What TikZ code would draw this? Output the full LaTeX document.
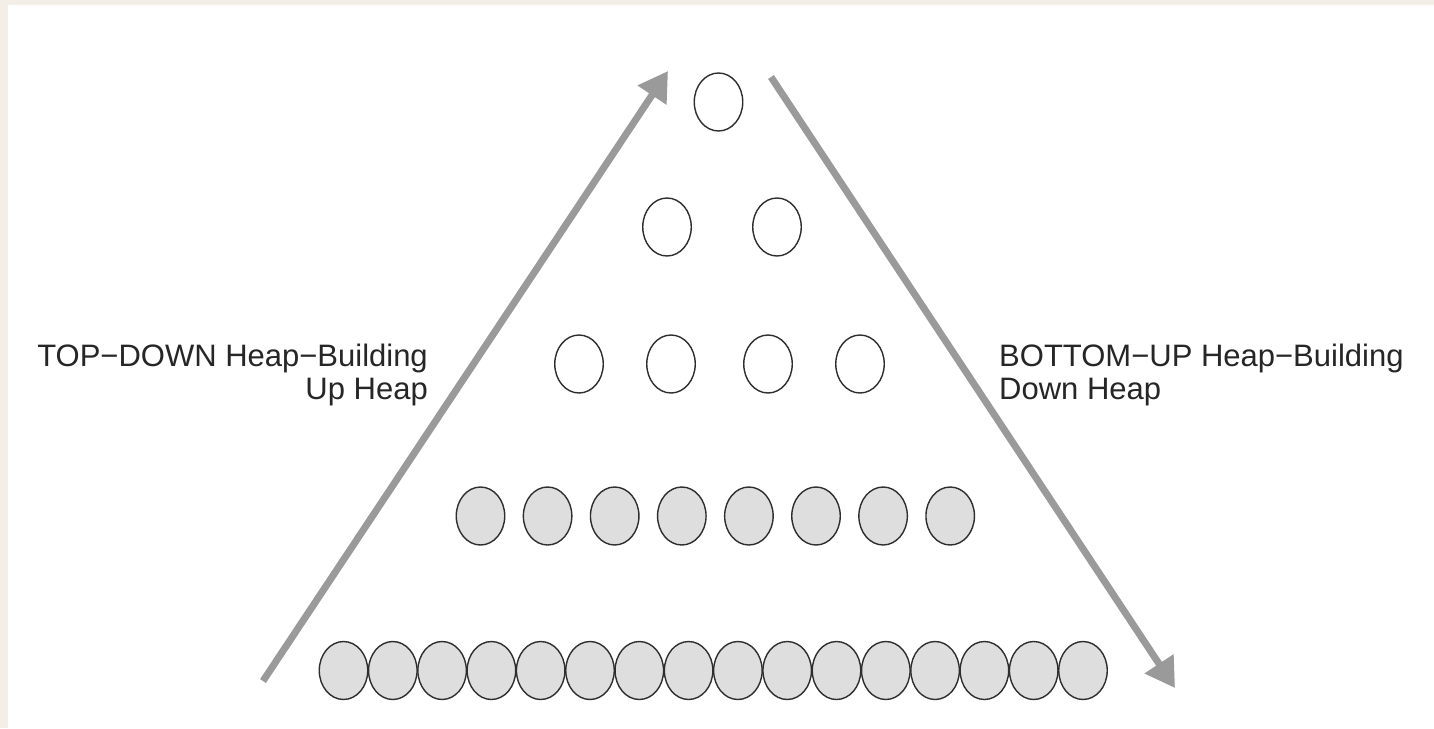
\documentclass[tikz,border=0pt]{standalone}
\usepackage{fontspec}
\setmainfont{Liberation Sans}
\usetikzlibrary{shapes.geometric,arrows.meta}
\definecolor{beige}{HTML}{F3EEE6}
\definecolor{arrowgray}{HTML}{9A9A9A}
\definecolor{nodegray}{HTML}{DEDEDE}
\definecolor{rimgray}{HTML}{2E2E2E}
\tikzset{
  heapnode/.style={ellipse, draw=rimgray, line width=1.4pt, minimum width=48.5pt, minimum height=58pt, inner sep=0pt},
  emptynode/.style={heapnode, fill=white},
  fullnode/.style={heapnode, fill=nodegray},
  bigarrow/.style={draw=arrowgray, line width=7pt, -{Triangle[length=29pt,width=33pt,fill=arrowgray]}},
  labeltext/.style={inner sep=0pt, font=\fontsize{31}{33}\selectfont, text=black!85}
}
\begin{document}
\begin{tikzpicture}[x=1pt,y=-1pt]
  \useasboundingbox (0,0) rectangle (1434,728);
  \fill[beige] (0,0) rectangle (1434,728);
  \fill[white] (8,5) rectangle (1434,728);

  % row 1
  \node[emptynode] (r1n1) at (718.5,102) {};
  % row 2
  \node[emptynode] (r2n1) at (667,227) {};
  \node[emptynode] (r2n2) at (777,227) {};
  % row 3
  \foreach \x [count=\i] in {579,671,768,860}
    \node[emptynode] (r3n\i) at (\x,364) {};
  % row 4
  \foreach \i in {1,...,8}
    \node[fullnode] (r4n\i) at ({480.5+67.1*(\i-1)},516) {};
  % row 5
  \foreach \i in {1,...,16}
    \node[fullnode] (r5n\i) at ({343.5+49.3*(\i-1)},670.5) {};

  % arrows
  \coordinate (lstart) at (263,681);
  \coordinate (lend) at (668,71);
  \coordinate (rstart) at (771,77);
  \coordinate (rend) at (1175,688);
  \draw[bigarrow] (lstart) -- (lend);
  \draw[bigarrow] (rstart) -- (rend);

  % labels
  \node[labeltext, anchor=base east] (tdline1) at (428,366) {TOP−DOWN Heap−Building};
  \node[labeltext, anchor=base east] (tdline2) at (428,399) {Up Heap};
  \node[labeltext, anchor=base west] (buline1) at (999,366) {BOTTOM−UP Heap−Building};
  \node[labeltext, anchor=base west] (buline2) at (999,399) {Down Heap};
\end{tikzpicture}
\end{document}
